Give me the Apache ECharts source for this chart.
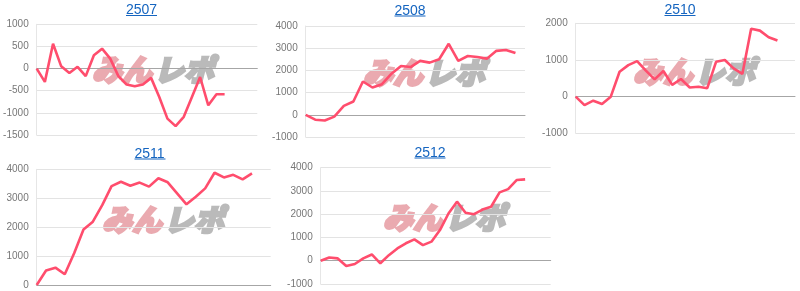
<!DOCTYPE html>
<html>
<head>
<meta charset="utf-8">
<script src="https://cdn.jsdelivr.net/npm/echarts@6/dist/echarts.min.js"></script>
<style>
html,body{margin:0;padding:0;background:#fff;}
#c{width:800px;height:291px;}
</style>
</head>
<body>
<div id="c"></div>
<script>
// ---- data ----
const titles = ['2507', '2508', '2510', '2511', '2512'];
const dayCounts = [28, 24, 26, 26, 28];
const d2507 = [0, -300, 560, 50, -100, 40, -170, 300, 450, 225, -170, -360, -400, -360, -210, -640, -1130, -1300, -1090, -640, -190, -830, -580, -580];
const d2508 = [0, -220, -260, -80, 400, 600, 1500, 1230, 1380, 1850, 2200, 2150, 2430, 2350, 2500, 3200, 2430, 2650, 2600, 2530, 2880, 2920, 2780];
const d2510 = [0, -230, -110, -200, 0, 680, 860, 970, 710, 470, 700, 320, 480, 250, 270, 230, 950, 1000, 770, 620, 1850, 1800, 1620, 1530];
const d2511 = [0, 500, 600, 370, 1100, 1920, 2190, 2760, 3420, 3570, 3430, 3540, 3400, 3690, 3550, 3170, 2790, 3050, 3340, 3880, 3720, 3810, 3650, 3860];
const d2512 = [0, 140, 100, -230, -140, 100, 270, -110, 240, 530, 750, 920, 670, 820, 1320, 2030, 2540, 2060, 2000, 2200, 2320, 2940, 3080, 3470, 3500];
const seriesData = [d2507, d2508, d2510, d2511, d2512];
const yMins = [-1500, -1000, -1000, 0, -1000];
const yMaxs = [1000, 4000, 2000, 4000, 4000];
const yIntervals = [500, 1000, 1000, 1000, 1000];

// ---- layout (styles) ----
const grids = [
  {left: 36.7, top: 24.3, width: 220.6, height: 110.7},
  {left: 305.7, top: 26, width: 219.3, height: 111},
  {left: 575.7, top: 23.3, width: 219.3, height: 110},
  {left: 36.7, top: 169.3, width: 234, height: 115.7},
  {left: 320.7, top: 167.7, width: 230, height: 116.3}
];
const titlePos = [[141.5, 9.5], [410, 10], [680, 9.5], [150, 153], [430, 152]];
const markPos = [[153, 70], [424, 73], [694, 72], [163, 220], [444, 218]];
const FONT = '"Liberation Sans", Arial, sans-serif';

const chart = echarts.init(document.getElementById('c'), null, {renderer: 'canvas'});

const xAxes = [], yAxes = [], series = [], graphics = [];
for (let i = 0; i < 5; i++) {
  const cats = [];
  for (let d = 1; d <= dayCounts[i]; d++) cats.push(String(d));
  xAxes.push({
    type: 'category', gridIndex: i, data: cats, boundaryGap: false,
    axisLine: {show: true, onZero: true, lineStyle: {color: '#a6a6a6', width: 1}},
    axisTick: {show: false}, axisLabel: {show: false}, splitLine: {show: false}
  });
  yAxes.push({
    type: 'value', gridIndex: i, min: yMins[i], max: yMaxs[i], interval: yIntervals[i],
    axisLine: {show: true, lineStyle: {color: '#e6e6e6'}},
    axisTick: {show: false},
    axisLabel: {color: '#777', fontSize: 10, fontFamily: FONT, margin: 8,
      formatter: v => String(v)},
    splitLine: {lineStyle: {color: '#e3e3e3', width: 1}}
  });
  series.push({
    type: 'line', xAxisIndex: i, yAxisIndex: i, data: seriesData[i],
    symbol: 'none', smooth: false, z: 5,
    lineStyle: {color: '#ff4d6d', width: 2.6},
    itemStyle: {color: '#ff4d6d'}
  });
  // title with underline
  const [tx, ty] = titlePos[i];
  graphics.push({
    type: 'text', left: tx - 15.5, top: ty - 6, z: 10,
    style: {text: titles[i], fill: '#1565c0', font: '14px ' + FONT}
  });
  graphics.push({
    type: 'line', z: 10,
    shape: {x1: tx - 15.5, y1: ty + 6, x2: tx + 15.5, y2: ty + 6},
    style: {stroke: '#1565c0', lineWidth: 1}
  });
  // watermark (drawn beneath grid lines)
  const [mx, my] = markPos[i];
  graphics.push({
    type: 'text', x: mx - 1, y: my, z: -10, silent: true,
    style: {text: 'みん', fill: '#eaaab0', stroke: '#eaaab0', lineWidth: 2.5,
      font: 'italic 900 30px "Noto Sans CJK JP"', align: 'right', verticalAlign: 'middle'}
  });
  graphics.push({
    type: 'text', x: mx + 1, y: my, z: -10, silent: true,
    style: {text: 'レポ', fill: '#bababa', stroke: '#bababa', lineWidth: 2.5,
      font: 'italic 900 30px "Noto Sans CJK JP"', align: 'left', verticalAlign: 'middle'}
  });
}

chart.setOption({
  animation: false,
  backgroundColor: '#fff',
  grid: grids.map(g => Object.assign({containLabel: false}, g)),
  xAxis: xAxes,
  yAxis: yAxes,
  series: series,
  graphic: graphics
});
</script>
</body>
</html>
